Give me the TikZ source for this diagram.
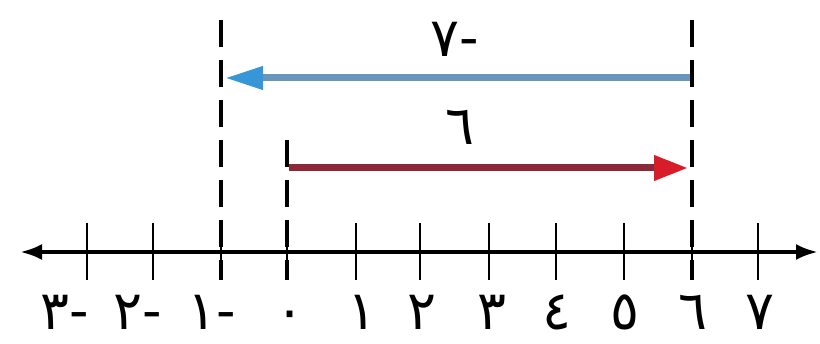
\documentclass[tikz,border=0pt]{standalone}
\usepackage{fontspec}
\newfontfamily\arabicfont{DejaVu Sans}
\usetikzlibrary{arrows.meta}
\definecolor{bluearrow}{RGB}{105,150,188}
\definecolor{bluehead}{RGB}{55,150,215}
\definecolor{redarrow}{RGB}{140,40,55}
\definecolor{redhead}{RGB}{215,30,40}
\begin{document}
\begin{tikzpicture}[x=1pt,y=-1pt,
  axisline/.style={line width=4pt, {Latex[length=22pt,width=16pt]}-{Latex[length=22pt,width=16pt]}},
  tickmark/.style={line width=2.2pt},
  guide/.style={line width=4pt, dash pattern=on 27pt off 13pt},
  numlab/.style={font=\arabicfont\fontsize{54}{54}\selectfont, inner sep=0pt, text depth=0pt, anchor=base},
  vecblue/.style={line width=7pt, draw=bluearrow, -{Triangle[length=38pt,width=22pt,color=bluehead]}},
  vecred/.style={line width=7pt, draw=redarrow, -{Triangle[length=34pt,width=24pt,color=redhead]}}]
\useasboundingbox[fill=white] (0,0) rectangle (820,344);
% axis
\coordinate (axL) at (20,252);
\coordinate (axR) at (818,252);
\draw[axisline] (axL) -- (axR);
% ticks and labels
\foreach \n/\x/\lx/\t in {m3/87/65/{٣-}, m2/153/138/{٢-}, m1/221/212/{١-}, z/287/290/{٠}, p1/356/362/{١}, p2/420/422/{٢}, p3/489/492/{٣}, p4/556/557/{٤}, p5/624/625/{٥}, p6/692/693/{٦}, p7/758/760/{٧}}{
  \coordinate (t\n a) at (\x,223);
  \coordinate (t\n b) at (\x,280);
  \draw[tickmark] (t\n a) -- (t\n b);
  \node[numlab] (l\n) at (\lx,330) {\t};
}
% guide lines
\coordinate (gAt) at (221,20); \coordinate (gAb) at (221,280);
\coordinate (gBt) at (692,20); \coordinate (gBb) at (692,280);
\coordinate (gCt) at (287,140); \coordinate (gCb) at (287,280);
\draw[guide] (gAt) -- (gAb);
\draw[guide] (gBt) -- (gBb);
\draw[guide] (gCt) -- (gCb);
% vectors
\coordinate (bS) at (690,78); \coordinate (bE) at (225,78);
\draw[vecblue] (bS) -- (bE);
\coordinate (rS) at (289,168); \coordinate (rE) at (688,168);
\draw[vecred] (rS) -- (rE);
\node[numlab] (lblue) at (455,57) {٧-};
\node[numlab] (lred) at (460,145) {٦};
\end{tikzpicture}
\end{document}
